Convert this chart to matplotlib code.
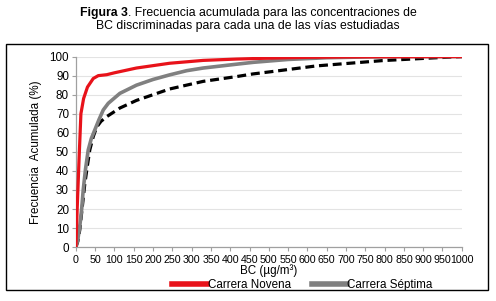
import matplotlib
matplotlib.use("Agg")
import matplotlib.pyplot as plt
from matplotlib.patches import Rectangle

plt.rcParams['font.family'] = ['Liberation Sans', 'DejaVu Sans']

# Carrera Novena (red)
x_novena = [0, 3.5, 8, 13, 20, 30, 45, 58, 80, 100, 157, 243, 330, 416, 503, 600, 700, 800, 1000]
y_novena = [0, 21, 45, 70, 78, 84, 88.5, 90, 90.5, 91.5, 94, 96.5, 98, 98.7, 99.2, 99.6, 99.8, 99.9, 100]

# Carrera Séptima (gray)
x_septima = [0, 5, 10, 15, 19, 25, 32, 40, 49, 60, 71, 84, 114, 157, 200, 243, 287, 330, 416, 460, 550, 650, 750, 850, 1000]
y_septima = [0, 4, 10.7, 20, 30, 41, 51, 57, 61.5, 67, 72, 75.5, 80.7, 85, 88, 90.4, 92.6, 94, 96, 97, 98.5, 99.4, 99.8, 100, 100]

# Third series (black dashed)
x_third = [0, 5, 10, 16, 23, 30, 36, 45, 54, 65, 80, 114, 157, 243, 330, 416, 459, 503, 623, 795, 925, 1000]
y_third = [0, 3, 9, 20, 33, 43, 51, 58, 63, 66, 68.5, 73, 77, 83, 87, 89.5, 90.9, 92, 95.1, 97.9, 99.3, 100]

x_ticks = list(range(0, 1001, 50))
y_ticks = list(range(0, 101, 10))

FS = 8.4

fig = plt.figure(figsize=(4.96, 3.01), dpi=100)
ax = fig.add_axes([0.153, 0.179, 0.778, 0.633])

# outer frame
fig.patches.append(Rectangle((0.012, 0.037), 0.972, 0.817, transform=fig.transFigure,
                             fill=False, edgecolor='black', linewidth=1.0))

ax.plot(x_third, y_third, color='black', lw=2.3, dashes=(2.8, 1.5), zorder=2)
ax.plot(x_septima, y_septima, color='#808080', lw=2.6, zorder=3, label='Carrera Séptima')
ax.plot(x_novena, y_novena, color='#e8121a', lw=2.3, zorder=4, label='Carrera Novena')

ax.set_xlim(0, 1000)
ax.set_ylim(0, 100)
ax.set_xticks(x_ticks)
ax.set_yticks(y_ticks)
ax.set_xticklabels([str(v) for v in x_ticks], fontsize=7.7)
ax.set_yticklabels([str(v) for v in y_ticks], fontsize=FS)
ax.tick_params(axis='both', direction='out', length=3, width=0.8, color='#a0a0a0', pad=2)
ax.tick_params(axis='x', pad=3)
ax.grid(axis='y', color='#e3e3e3', lw=0.8)
ax.set_axisbelow(True)
for s in ['top', 'right']:
    ax.spines[s].set_visible(False)
for s in ['left', 'bottom']:
    ax.spines[s].set_color('#a0a0a0')
    ax.spines[s].set_linewidth(0.9)

ax.set_ylabel('Frecuencia  Acumulada (%)', fontsize=FS, labelpad=5)
ax.set_xlabel('BC (µg/m³)', fontsize=FS, labelpad=-1)

h, l = ax.get_legend_handles_labels()
leg = fig.legend(h[::-1], l[::-1], loc='center left', bbox_to_anchor=(0.335, 0.054), ncol=2,
                 frameon=False, fontsize=FS, handlelength=3.0, handletextpad=0.05,
                 columnspacing=1.8, borderpad=0)
for line in leg.get_lines():
    line.set_linewidth(4)

# Title: bold "Figura 3" followed by regular text, centred as a whole
TFS = 8.8
t1 = fig.text(0, 0.957, 'Figura 3', fontsize=TFS, fontweight='bold', ha='left', va='center')
t2 = fig.text(0, 0.957, '. Frecuencia acumulada para las concentraciones de', fontsize=TFS,
              ha='left', va='center')
fig.text(0.5, 0.912, 'BC discriminadas para cada una de las vías estudiadas',
         ha='center', va='center', fontsize=TFS)
fig.canvas.draw()
r = fig.canvas.get_renderer()
w1 = t1.get_window_extent(r).width / fig.bbox.width
w2 = t2.get_window_extent(r).width / fig.bbox.width
x0 = 0.5 - (w1 + w2) / 2
t1.set_x(x0)
t2.set_x(x0 + w1)

fig.savefig('out.png', dpi=100)
